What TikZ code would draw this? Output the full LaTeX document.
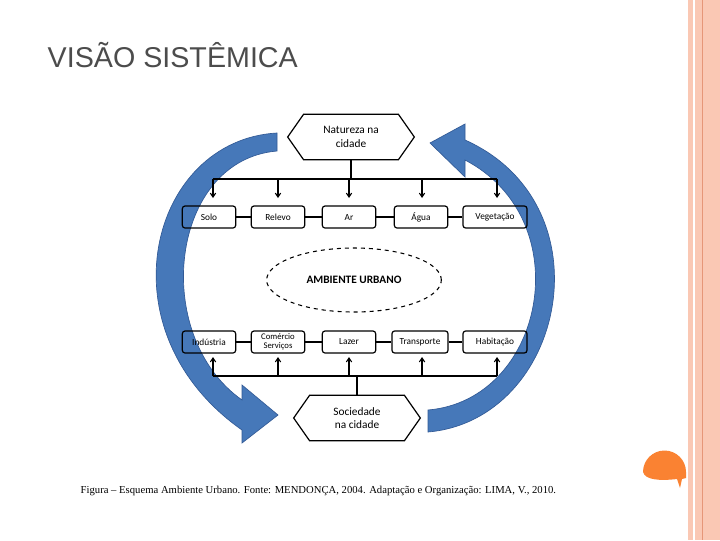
\documentclass[tikz,border=0pt]{standalone}
\usepackage{fontspec}
\setmainfont{Liberation Serif}
\newfontfamily\titlefont{Liberation Sans}
\newfontfamily\boxfont{Carlito}
\usetikzlibrary{shapes.geometric,shapes.symbols,arrows.meta}
\definecolor{salmon}{RGB}{250,200,180}
\definecolor{salmondark}{RGB}{230,150,120}
\definecolor{blobcol}{RGB}{250,130,50}
\definecolor{arcblue}{RGB}{70,120,185}
\definecolor{arcedge}{RGB}{50,90,150}
\tikzset{
  itembox/.style={draw,line width=0.9pt,rounded corners=2pt,minimum width=40pt,minimum height=16.5pt,inner sep=1pt,font=\boxfont\fontsize{7}{7.5}\selectfont,align=center},
  hexbox/.style={draw,line width=0.9pt,signal,signal to=east and west,signal pointer angle=110,minimum width=95pt,minimum height=34pt,font=\boxfont\fontsize{8.5}{10}\selectfont,align=center,inner sep=0pt},
  feed/.style={line width=0.8pt,-{Straight Barb[length=3pt,width=4pt]}}
}
\begin{document}
\begin{tikzpicture}[x=0.75pt,y=0.75pt,yscale=-1,xscale=1]
\useasboundingbox (0,0) rectangle (720,540);
\fill[white] (0,0) rectangle (720,540);

% right border
\fill[salmon] (688,0) rectangle (693,540);
\fill[salmon] (695,0) rectangle (720,540);
\draw[salmondark,line width=0.6pt] (702,0) -- (702,540);
\fill[blobcol] (643,472) arc[start angle=180,end angle=360,radius=21.5] -- (686,478) -- (682,479) -- (680,488) -- (677,479)
  .. controls (660,481) and (645,480) .. (643,472) -- cycle;

% title
\node[anchor=west,text=black!70,font=\titlefont\fontsize{21.5}{22}\selectfont] (title) at (43,55) {VISÃO SISTÊMICA};

% blue arcs
\draw[arcedge,fill=arcblue,line width=0.5pt] (277,133) .. controls (150,140) and (100,330) .. (242,430)
  -- (242,443) -- (278,415) -- (242,385) -- (242,400)
  .. controls (150,335) and (170,160) .. (277,151) -- cycle;
\draw[arcedge,fill=arcblue,line width=0.5pt] (428,432) .. controls (565,420) and (610,205) .. (465,140)
  -- (465,124) -- (430,143) -- (465,177) -- (465,160)
  .. controls (580,220) and (545,400) .. (428,410) -- cycle;

% nature
\node[hexbox] (nat) at (351,137) {Natureza na\\cidade};
\node[itembox] (solo) at (209,217) {Solo};
\node[itembox] (relevo) at (278,217) {Relevo};
\node[itembox] (ar) at (349,217) {Ar};
\node[itembox] (agua) at (421,217) {Água};
\node[itembox,minimum width=48pt] (veg) at (495,217) {Vegetação};
\foreach \a/\b in {solo/relevo,relevo/ar,ar/agua,agua/veg}
  \draw[line width=0.9pt] (\a) -- (\b);
\coordinate (tbus) at (351,179);
\draw[line width=0.8pt] (nat.south) -- (tbus);
\draw[line width=0.8pt] (213,179) -- (497,179);
\foreach \n/\x in {solo/213,relevo/278,ar/349,agua/422,veg/497}
  \draw[feed] (\x,179) -- (\x,198);

% urban environment
\node[draw,dashed,line width=0.8pt,ellipse,minimum width=131pt,minimum height=48pt,font=\boxfont\bfseries\fontsize{8.5}{9}\selectfont] (amb) at (354,280) {AMBIENTE URBANO};

% society
\node[itembox] (ind) at (209,342) {Indústria};
\node[itembox,font=\boxfont\fontsize{6.5}{6.5}\selectfont] (com) at (278,342) {Comércio\\Serviços};
\node[itembox] (lazer) at (349,342) {Lazer};
\node[itembox,minimum width=42pt] (trans) at (420,342) {Transporte};
\node[itembox,minimum width=48pt] (hab) at (495,342) {Habitação};
\foreach \a/\b in {ind/com,com/lazer,lazer/trans,trans/hab}
  \draw[line width=0.9pt] (\a) -- (\b);
\node[hexbox] (soc) at (357,418) {Sociedade\\na cidade};
\coordinate (bbus) at (357,376);
\draw[line width=0.8pt] (soc.north) -- (bbus);
\draw[line width=0.8pt] (213,376) -- (497,376);
\foreach \n/\x in {ind/213,com/278,lazer/349,trans/422,hab/497}
  \draw[feed] (\x,376) -- (\x,357);

% caption
\node[anchor=west,font=\fontsize{8}{9}\selectfont] (cap) at (76,491) {Figura -- Esquema Ambiente Urbano. Fonte: MENDONÇA, 2004. Adaptação e Organização: LIMA, V., 2010.};
\end{tikzpicture}
\end{document}
